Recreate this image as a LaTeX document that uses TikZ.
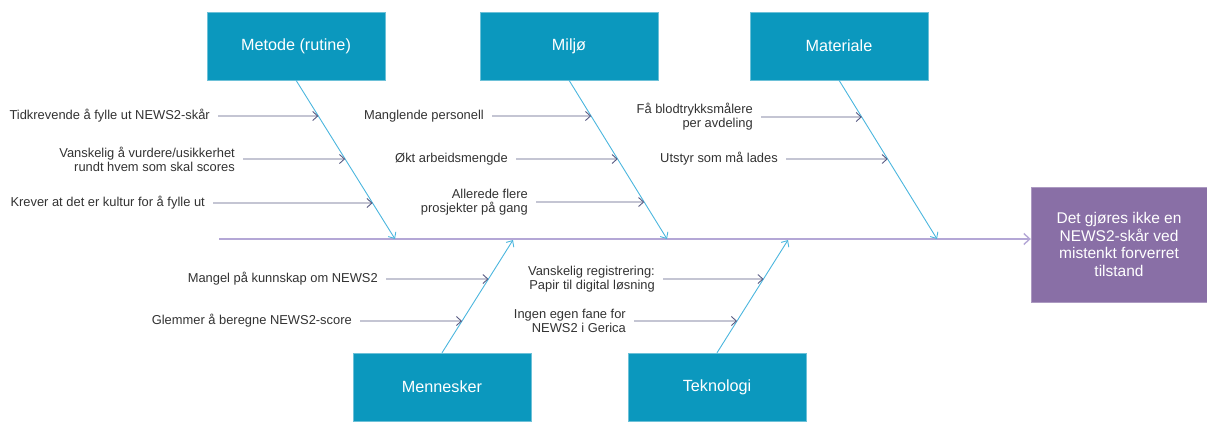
\documentclass[tikz,border=0pt]{standalone}
\usepackage{fontspec}
\setsansfont{Liberation Sans}
\usetikzlibrary{arrows.meta}
\definecolor{boxTeal}{RGB}{11,152,190}
\definecolor{effectPurple}{RGB}{137,111,166}
\definecolor{spineLilac}{RGB}{180,167,214}
\definecolor{boneBlue}{RGB}{75,182,222}
\definecolor{causeSlate}{RGB}{88,90,130}
\definecolor{textGray}{RGB}{50,50,50}
\begin{document}
\begin{tikzpicture}[x = 1pt, y = -1pt, font=\sffamily]
	\tikzstyle{categoryStyle} = [shape = rectangle, fill = boxTeal, draw = boxTeal!60, text = white, minimum width = 178pt, minimum height = 68pt, inner sep = 0pt, font = \sffamily\fontsize{16.2}{19}\selectfont]
	\tikzstyle{effectStyle} = [shape = rectangle, fill = effectPurple, draw = effectPurple!70, text = white, minimum width = 176pt, minimum height = 115pt, align = center, font = \sffamily\fontsize{15.5}{17.5}\selectfont]
	\tikzstyle{causeStyle} = [anchor = east, inner sep = 0pt, align = right, text = textGray, font = \sffamily\fontsize{12.9}{14}\selectfont]
	\tikzstyle{arrowStyle} = [draw = causeSlate, line width = 0.9pt, shorten <= 8pt, -{Straight Barb[length = 5pt, width = 9pt]}]
	\tikzstyle{boneStyle} = [draw = boneBlue, line width = 0.9pt, -{Straight Barb[length = 5pt, width = 9pt]}]
	\tikzstyle{spineStyle} = [draw = spineLilac, line width = 1.4pt, -{Straight Barb[length = 6pt, width = 11pt]}]
	\useasboundingbox (0, 0) rectangle (1207, 421);
	\node[categoryStyle] (metode) at (296, 46) {Metode (rutine)};
	\node[categoryStyle] (miljo) at (569, 46) {Milj\o{}};
	\node[categoryStyle] (materiale) at (839, 46) {Materiale};
	\node[categoryStyle] (mennesker) at (442, 387) {Mennesker};
	\node[categoryStyle] (teknologi) at (717, 387) {Teknologi};
	\node[effectStyle] (effect) at (1119, 244.5) {Det gjøres ikke en\\NEWS2-skår ved\\mistenkt forverret\\tilstand};
	\coordinate (spinestart) at (219, 239);
	\coordinate (mh) at (395, 239);
	\coordinate (jh) at (667, 239);
	\coordinate (th) at (937, 239);
	\coordinate (nh) at (513, 240);
	\coordinate (kh) at (788, 240);
	\node[causeStyle] (c1) at (210, 116) {Tidkrevende å fylle ut NEWS2-skår};
	\node[causeStyle] (c2) at (235, 159) {Vanskelig å vurdere/usikkerhet\\rundt hvem som skal scores};
	\node[causeStyle] (c3) at (205, 203) {Krever at det er kultur for å fylle ut};
	\node[causeStyle] (c4) at (484, 116) {Manglende personell};
	\node[causeStyle] (c5) at (508, 159) {Økt arbeidsmengde};
	\node[causeStyle] (c6) at (528, 202) {Allerede flere\\prosjekter på gang};
	\node[causeStyle] (c7) at (753, 117) {Få blodtrykksmålere\\per avdeling};
	\node[causeStyle] (c8) at (778, 159) {Utstyr som må lades};
	\node[causeStyle] (c9) at (378, 279) {Mangel på kunnskap om NEWS2};
	\node[causeStyle] (c10) at (352, 321) {Glemmer å beregne NEWS2-score};
	\node[causeStyle] (c11) at (655, 279) {Vanskelig registrering:\\Papir til digital løsning};
	\node[causeStyle] (c12) at (626, 321) {Ingen egen fane for\\NEWS2 i Gerica};
	\draw[spineStyle] (spinestart) -- (effect.west |- spinestart);
	\draw[boneStyle] (metode.south) -- (mh);
	\draw[boneStyle] (miljo.south) -- (jh);
	\draw[boneStyle] (materiale.south) -- (th);
	\draw[boneStyle] (mennesker.north) -- (nh);
	\draw[boneStyle] (teknologi.north) -- (kh);
	\draw[arrowStyle] (c1.east) -- (intersection of metode.south--mh and c1.west--c1.east);
	\draw[arrowStyle] (c2.east) -- (intersection of metode.south--mh and c2.west--c2.east);
	\draw[arrowStyle] (c3.east) -- (intersection of metode.south--mh and c3.west--c3.east);
	\draw[arrowStyle] (c4.east) -- (intersection of miljo.south--jh and c4.west--c4.east);
	\draw[arrowStyle] (c5.east) -- (intersection of miljo.south--jh and c5.west--c5.east);
	\draw[arrowStyle] (c6.east) -- (intersection of miljo.south--jh and c6.west--c6.east);
	\draw[arrowStyle] (c7.east) -- (intersection of materiale.south--th and c7.west--c7.east);
	\draw[arrowStyle] (c8.east) -- (intersection of materiale.south--th and c8.west--c8.east);
	\draw[arrowStyle] (c9.east) -- (intersection of mennesker.north--nh and c9.west--c9.east);
	\draw[arrowStyle] (c10.east) -- (intersection of mennesker.north--nh and c10.west--c10.east);
	\draw[arrowStyle] (c11.east) -- (intersection of teknologi.north--kh and c11.west--c11.east);
	\draw[arrowStyle] (c12.east) -- (intersection of teknologi.north--kh and c12.west--c12.east);
\end{tikzpicture}
\end{document}
